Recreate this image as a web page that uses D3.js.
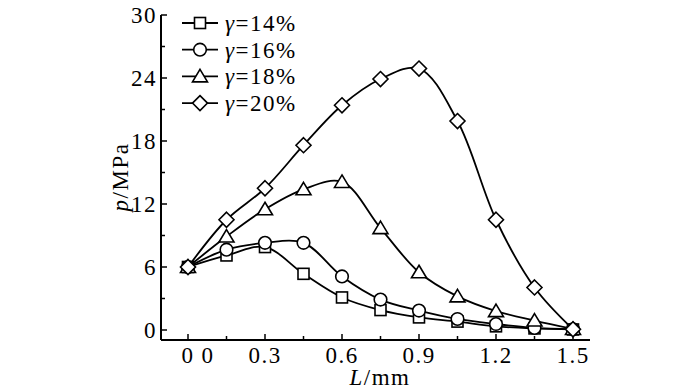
<!DOCTYPE html>
<html>
<head>
<meta charset="utf-8">
<script src="https://cdn.jsdelivr.net/npm/d3@7"></script>
<style>
  body { margin: 0; background: white; }
  text { font-family: "Liberation Serif", "Times New Roman", serif; font-size: 23px; fill: black; letter-spacing: 1.5px; }
</style>
</head>
<body>
<div id="chart"></div>
<script>
// data
var lengths = [0, 0.15, 0.3, 0.45, 0.6, 0.75, 0.9, 1.05, 1.2, 1.35, 1.5];
var p14 = [6.0, 7.1, 7.9, 5.35, 3.1, 1.9, 1.2, 0.8, 0.35, 0.15, 0.05];
var p16 = [6.0, 7.65, 8.3, 8.3, 5.1, 2.9, 1.85, 1.05, 0.57, 0.2, 0.07];
var p18 = [6.0, 8.9, 11.5, 13.4, 14.1, 9.7, 5.5, 3.2, 1.8, 0.9, 0.1];
var p20 = [6.0, 10.5, 13.5, 17.6, 21.4, 23.9, 24.9, 19.9, 10.5, 4.05, 0.07];
var seriesNames = ['=14%', '=16%', '=18%', '=20%'];
var seriesMarks = ['square', 'circle', 'triangle', 'diamond'];
var xTicks = [0, 0.3, 0.6, 0.9, 1.2, 1.5];
var xMinor = [0.15, 0.45, 0.75, 1.05, 1.35];
var yTicks = [0, 6, 12, 18, 24, 30];
var yMinor = [3, 9, 15, 21, 27];

var allSeries = [p14, p16, p18, p20];

var width = 700, height = 390;
var svg = d3.select('#chart').append('svg')
    .attr('width', width)
    .attr('height', height);

var x = d3.scaleLinear().domain([0, 1.5]).range([188, 573]);
var y = d3.scaleLinear().domain([0, 30]).range([330, 15]);

var axisY = 161, axisX = 340;

// axes lines
svg.append('line')
    .attr('x1', axisY).attr('x2', axisY)
    .attr('y1', y(30)).attr('y2', axisX)
    .attr('stroke', 'black').attr('stroke-width', 2);
svg.append('line')
    .attr('x1', axisY).attr('x2', 590)
    .attr('y1', axisX).attr('y2', axisX)
    .attr('stroke', 'black').attr('stroke-width', 2);

// y ticks
svg.selectAll('.ytick').data(yTicks).enter().append('line')
    .attr('x1', axisY).attr('x2', axisY + 6)
    .attr('y1', d => y(d)).attr('y2', d => y(d))
    .attr('stroke', 'black').attr('stroke-width', 1.5);
svg.selectAll('.yminor').data(yMinor).enter().append('line')
    .attr('x1', axisY).attr('x2', axisY + 4)
    .attr('y1', d => y(d)).attr('y2', d => y(d))
    .attr('stroke', 'black').attr('stroke-width', 1.5);
svg.selectAll('.ylab').data(yTicks).enter().append('text')
    .attr('x', axisY - 4)
    .attr('y', d => y(d) + 8)
    .attr('text-anchor', 'end')
    .text(d => d);

// x ticks
svg.selectAll('.xtick').data(xTicks).enter().append('line')
    .attr('x1', d => x(d)).attr('x2', d => x(d))
    .attr('y1', axisX).attr('y2', axisX - 6)
    .attr('stroke', 'black').attr('stroke-width', 1.5);
svg.selectAll('.xminor').data(xMinor).enter().append('line')
    .attr('x1', d => x(d)).attr('x2', d => x(d))
    .attr('y1', axisX).attr('y2', axisX - 4)
    .attr('stroke', 'black').attr('stroke-width', 1.5);
svg.selectAll('.xlab').data(xTicks).enter().append('text')
    .attr('x', d => x(d))
    .attr('y', 363)
    .attr('text-anchor', 'middle')
    .text(d => d === 0 ? '0' : d3.format('.1f')(d));
// stray second zero as in the original
svg.append('text')
    .attr('x', x(0.078)).attr('y', 363)
    .attr('text-anchor', 'middle')
    .text('0');

// axis titles
var xt = svg.append('text')
    .attr('x', 380).attr('y', 385)
    .attr('text-anchor', 'middle');
xt.append('tspan').attr('font-style', 'italic').text('L');
xt.append('tspan').text('/mm');

var yt = svg.append('text')
    .attr('transform', 'translate(128,177) rotate(-90)')
    .attr('text-anchor', 'middle');
yt.append('tspan').attr('font-style', 'italic').text('p');
yt.append('tspan').text('/MPa');

// curves
var line = d3.line()
    .x((d, i) => x(lengths[i]))
    .y(d => y(d))
    .curve(d3.curveCatmullRom.alpha(0.5));

svg.selectAll('.curve').data(allSeries).enter().append('path')
    .attr('d', d => line(d))
    .attr('fill', 'none')
    .attr('stroke', 'black')
    .attr('stroke-width', 1.8);

function drawMark(g, kind, cx, cy) {
    var s;
    if (kind === 'square') {
        s = g.append('rect').attr('x', cx - 5.5).attr('y', cy - 5.5).attr('width', 11).attr('height', 11);
    } else if (kind === 'circle') {
        s = g.append('circle').attr('cx', cx).attr('cy', cy).attr('r', 6.3);
    } else if (kind === 'triangle') {
        s = g.append('path').attr('d', `M${cx},${cy - 7}L${cx + 7.5},${cy + 5.5}L${cx - 7.5},${cy + 5.5}Z`);
    } else {
        s = g.append('path').attr('d', `M${cx},${cy - 7.5}L${cx + 7.5},${cy}L${cx},${cy + 7.5}L${cx - 7.5},${cy}Z`);
    }
    s.attr('fill', 'white').attr('stroke', 'black').attr('stroke-width', 1.6);
}

var marks = svg.append('g');
allSeries.forEach(function(ser, k) {
    ser.forEach(function(v, i) {
        drawMark(marks, seriesMarks[k], x(lengths[i]), y(v));
    });
});

// legend
var legend = svg.append('g');
seriesNames.forEach(function(name, k) {
    var ly = 23 + k * 26.7;
    legend.append('line')
        .attr('x1', 182).attr('x2', 218)
        .attr('y1', ly).attr('y2', ly)
        .attr('stroke', 'black').attr('stroke-width', 1.8);
    drawMark(legend, seriesMarks[k], 200, ly);
    var t = legend.append('text')
        .attr('x', 225).attr('y', ly + 8);
    t.append('tspan').attr('font-style', 'italic').text('γ');
    t.append('tspan').text(name);
});
</script>
</body>
</html>
